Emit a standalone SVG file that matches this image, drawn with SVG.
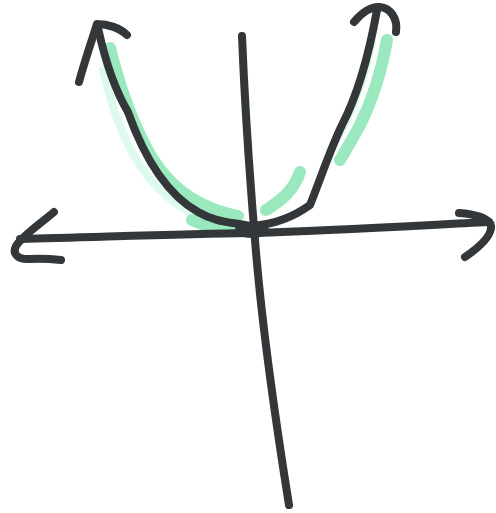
<svg xmlns="http://www.w3.org/2000/svg" width="496" height="513" viewBox="0 0 496 513">
<style>
.ink{fill:none;stroke:#33373a;stroke-width:8;stroke-linecap:round;stroke-linejoin:round}
.hl{fill:none;stroke:#6fe0a2;stroke-width:12;stroke-linecap:round;stroke-linejoin:round;opacity:0.7}
.hl2{fill:none;stroke:#8ff0bf;stroke-width:8;stroke-linecap:round;opacity:0.3}
</style>
<rect width="496" height="513" fill="#ffffff"/>
<g id="highlight">
<path class="hl" d="M110,48 C118,80 128,110 140,135 C158,175 185,205 238,216"/>
<path class="hl" d="M192,220 C205,226 220,229 236,229"/>
<path class="hl2" d="M103,70 C115,120 130,160 160,190 C180,210 200,220 240,226"/>
<path class="hl" d="M387,40 C380,80 370,105 360,125 C352,140 346,150 340,160"/>
<path class="hl2" d="M372,40 C365,80 350,120 330,150"/>
<path class="hl" d="M266,210 C282,200 294,190 300,172"/>
</g>
<g id="connectors">
<path id="y-axis" class="ink" d="M242,36 C245,110 250,180 255,240 C262,330 277,430 289,505"/>
<path id="x-axis" class="ink" d="M20,239 C100,237 180,234 250,233 C330,231 410,226 489,222"/>
<path id="x-left-arrow" class="ink" d="M54,212 C40,224 22,236 16,246 C12,254 18,260 30,259 C42,258 52,259 61,260"/>
<path id="x-right-arrow" class="ink" d="M459,213 C474,214 490,218 491,226 C492,236 478,248 465,257"/>
<path id="parabola" class="ink" d="M98,28 C105,60 115,90 128,112 C145,160 168,195 198,212 C215,222 230,222 250,226 C270,225 292,218 310,205 C320,180 330,150 342,125 C355,100 368,60 377,10"/>
<path id="left-arrowhead" class="ink" d="M79,82 C85,60 92,40 97,24 C108,24 120,28 127,35"/>
<path id="right-arrowhead" class="ink" d="M354,22 C362,12 372,6 380,7 C390,8 398,18 396,32"/>
<ellipse cx="252" cy="230" rx="17" ry="8" fill="#33373a"/>
</g>
</svg>
